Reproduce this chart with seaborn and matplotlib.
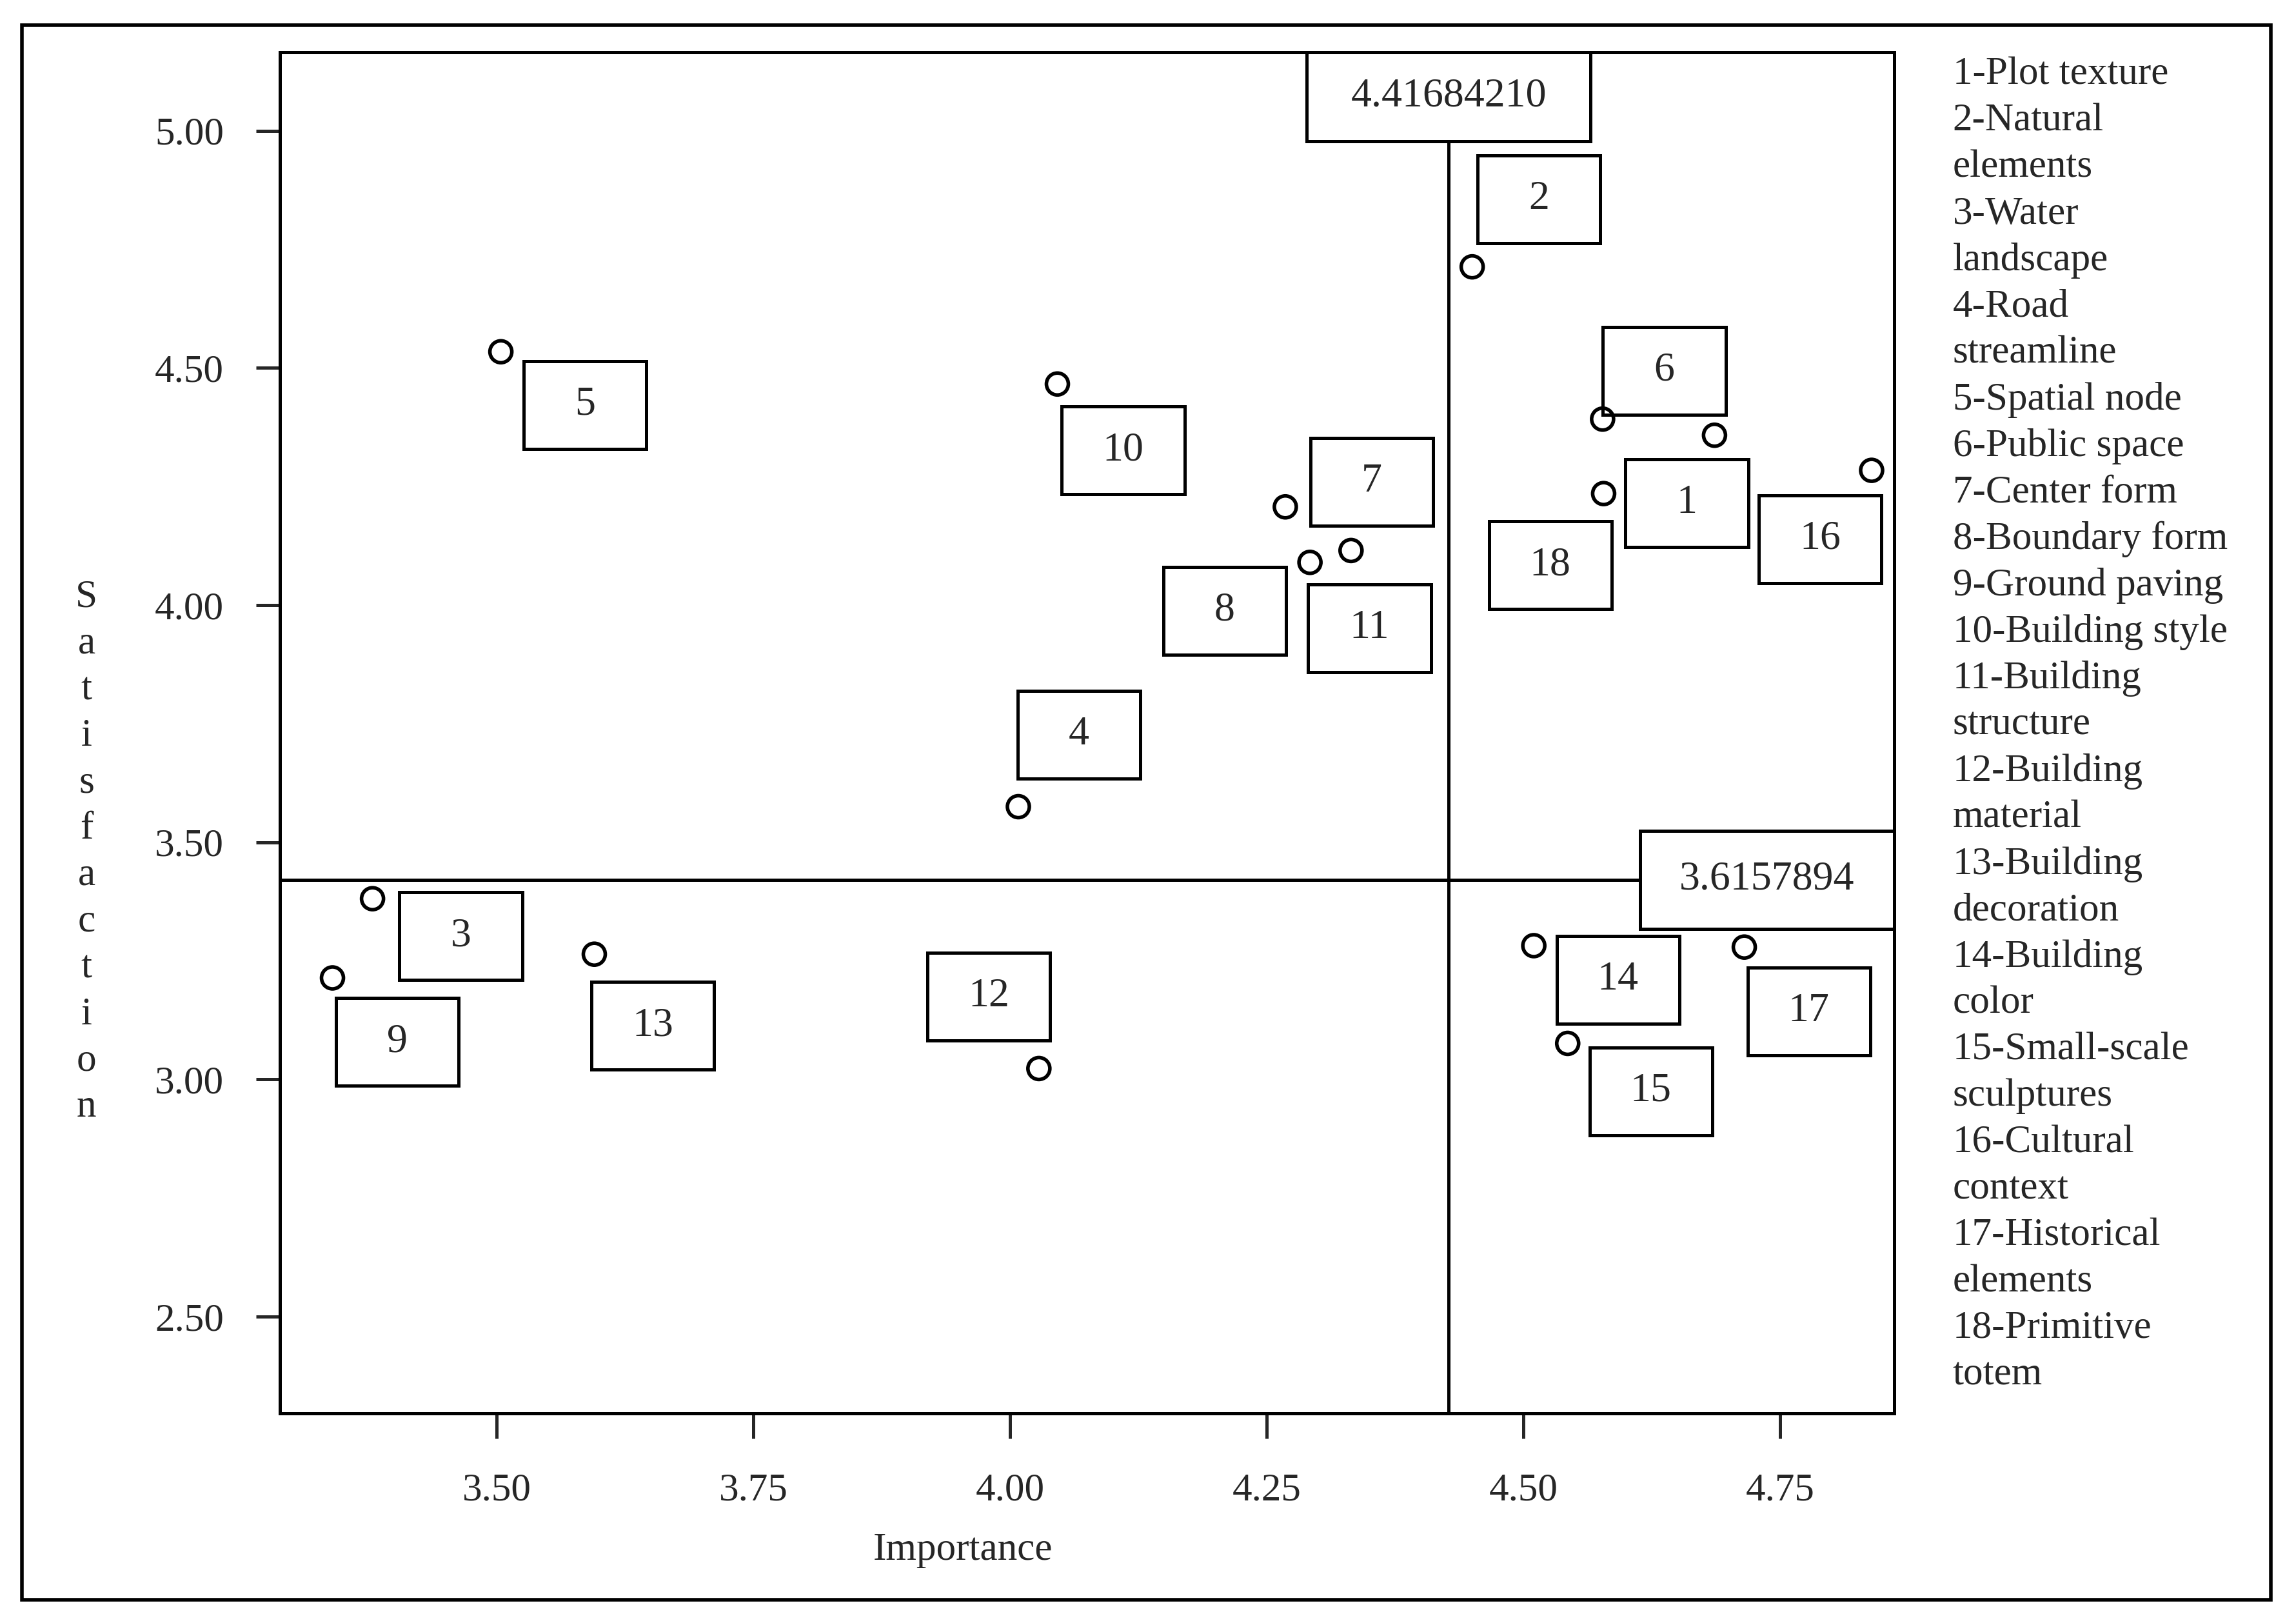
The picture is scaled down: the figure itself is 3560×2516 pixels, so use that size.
import matplotlib.pyplot as plt
from matplotlib.patches import Rectangle
import pandas as pd
import seaborn as sns

# item means
items = list(range(1, 19))
importance = [4.686, 4.450, 3.379, 4.008, 3.504, 4.577, 4.268, 4.292, 3.340,
              4.046, 4.332, 4.028, 3.595, 4.510, 4.543, 4.839, 4.715, 4.578]
satisfaction = [4.358, 4.713, 3.381, 3.575, 4.534, 4.392, 4.207, 4.090, 3.214,
                4.466, 4.115, 3.023, 3.264, 3.282, 3.076, 4.284, 3.279, 4.235]

# centres of the numbered boxes
label_x = [4.659, 4.515, 3.465, 4.067, 3.586, 4.637, 4.352, 4.209, 3.403,
           4.110, 4.350, 3.979, 3.652, 4.592, 4.624, 4.789, 4.778, 4.526]
label_y = [4.215, 4.855, 3.302, 3.726, 4.422, 4.494, 4.260, 3.988, 3.079,
           4.326, 3.951, 3.174, 3.113, 3.210, 2.975, 4.139, 3.143, 4.084]

item_names = ["1-Plot texture", "2-Natural\nelements", "3-Water\nlandscape",
              "4-Road\nstreamline", "5-Spatial node", "6-Public space",
              "7-Center form", "8-Boundary form", "9-Ground paving",
              "10-Building style", "11-Building\nstructure", "12-Building\nmaterial",
              "13-Building\ndecoration", "14-Building\ncolor",
              "15-Small-scale\nsculptures", "16-Cultural\ncontext",
              "17-Historical\nelements", "18-Primitive\ntotem"]

x_ticks = [3.50, 3.75, 4.00, 4.25, 4.50, 4.75]
y_ticks = [2.50, 3.00, 3.50, 4.00, 4.50, 5.00]

mean_importance = 4.41684210
mean_satisfaction = 3.6157894
# where the two reference lines actually sit in the original figure
imp_line_drawn = 4.427
sat_line_drawn = 3.421

df = pd.DataFrame({"item": items, "Importance": importance,
                   "Satisfaction": satisfaction})

sns.set_theme(style="white")
plt.rcParams["font.family"] = ["Liberation Serif", "DejaVu Serif"]

fig = plt.figure(figsize=(17.8, 12.58), dpi=200)
ax = fig.add_axes([0.122, 0.129, 0.703, 0.839])

xlim = (3.289, 4.861)
ylim = (2.2955, 5.166)
ax.set_xlim(*xlim)
ax.set_ylim(*ylim)

# reference lines
ax.axvline(imp_line_drawn, color="black", lw=1.8, zorder=1)
ax.axhline(sat_line_drawn, color="black", lw=1.8, zorder=1)

sns.scatterplot(data=df, x="Importance", y="Satisfaction", ax=ax,
                marker="o", s=150, facecolor="none", edgecolor="black",
                linewidth=2.0, zorder=5, legend=False)
ax.collections[-1].set_facecolor("none")

# numbered boxes
bw, bh = 0.1195, 0.185
for n, lx, ly in zip(items, label_x, label_y):
    ax.add_patch(Rectangle((lx - bw / 2, ly - bh / 2), bw, bh, fc="white",
                           ec="black", lw=1.8, zorder=3))
    ax.text(lx, ly, str(n), ha="center", va="center", fontsize=23, zorder=4)

# mean value boxes
w1, h1 = 0.276, 0.188
ax.add_patch(Rectangle((imp_line_drawn - w1 / 2, ylim[1] - h1), w1, h1,
                       fc="white", ec="black", lw=1.8, zorder=3, clip_on=False))
ax.text(imp_line_drawn, ylim[1] - h1 / 2, f"{mean_importance:.8f}",
        ha="center", va="center", fontsize=23, zorder=4)
w2, h2 = 0.2476, 0.2066
ax.add_patch(Rectangle((xlim[1] - w2, sat_line_drawn - h2 / 2), w2, h2,
                       fc="white", ec="black", lw=1.8, zorder=3, clip_on=False))
ax.text(xlim[1] - w2 / 2, sat_line_drawn, f"{mean_satisfaction:.7f}",
        ha="center", va="center", fontsize=23, zorder=4)

ax.set_xticks(x_ticks)
ax.set_xticklabels([f"{v:.2f}" for v in x_ticks])
ax.set_yticks(y_ticks)
ax.set_yticklabels([f"{v:.2f}" for v in y_ticks])
ax.tick_params(axis="x", direction="out", length=14, width=1.8, pad=19,
               labelsize=22, bottom=True)
ax.tick_params(axis="y", direction="out", length=13.5, width=1.8, pad=18,
               labelsize=22, left=True)
for sp in ax.spines.values():
    sp.set_color("black")
    sp.set_linewidth(1.8)

ax.set_xlabel("Importance", fontsize=22)
ax.xaxis.set_label_coords(0.423, -0.087)
ax.set_ylabel("")

# stacked vertical label
for i, ch in enumerate("Satisfaction"):
    fig.text(0.0377, 1 - (407 + i * 31.6) / 1106, ch, ha="center",
             va="center", fontsize=22)

# item list on the right
y0 = 1 - 51 / 1106
step = 31.64 / 1106
k = 0
for name in item_names:
    for line in name.split("\n"):
        fig.text(0.8505, y0 - k * step, line, ha="left", va="center",
                 fontsize=22)
        k += 1

# outer frame
fig.patches.append(Rectangle((0.0096, 0.0145), 0.9795, 0.9701,
                             transform=fig.transFigure, fill=False,
                             ec="black", lw=2.0))

fig.savefig("out.png", dpi=200)
